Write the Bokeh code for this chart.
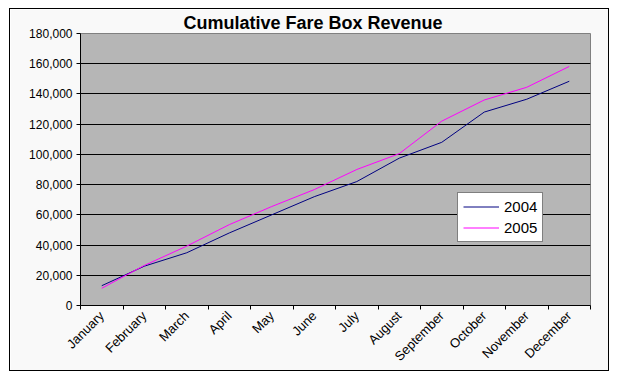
from math import pi
from bokeh.plotting import figure
from bokeh.models import (Range1d, FixedTicker, NumeralTickFormatter, Legend, LegendItem)
from bokeh.embed import file_html
from bokeh.resources import INLINE

months = ["January", "February", "March", "April", "May", "June", "July",
          "August", "September", "October", "November", "December"]
rev_2004 = [13100, 26000, 34900, 48000, 60000, 72000, 82000, 97500, 108000, 128000, 136500, 148400]
rev_2005 = [11400, 26500, 39300, 53500, 65500, 76700, 90000, 100500, 122000, 136000, 144400, 158200]
y_ticks = [0, 20000, 40000, 60000, 80000, 100000, 120000, 140000, 160000, 180000]

FONT = "Liberation Sans"
xs = list(range(1, len(months) + 1))

p = figure(width=600, height=363, output_backend="svg", toolbar_location=None,
           x_range=Range1d(0.5, len(months) + 0.5), y_range=Range1d(0, 180000),
           min_border_left=70, min_border_right=20, min_border_top=24, min_border_bottom=67,
           title="Cumulative Fare Box Revenue")
p.margin = (8, 0, 0, 9)
p.styles = {"border": "1px solid black"}
p.border_fill_color = "#f9f9f9"
p.background_fill_color = "#b6b6b6"
p.outline_line_color = "#808080"

p.title.text_font = FONT
p.title.text_font_size = "18px"
p.title.text_font_style = "bold"
p.title.text_color = "black"
p.title.align = "left"
p.title.offset = 103
p.title.standoff = 2

# x axis
xa = p.xaxis[0]
xa.ticker = FixedTicker(ticks=xs, minor_ticks=[x - 0.5 for x in xs] + [len(xs) + 0.5])
xa.major_label_overrides = {x: m for x, m in zip(xs, months)}
xa.major_tick_line_color = None
xa.major_tick_out = 4
xa.major_tick_in = 0
xa.minor_tick_out = 4
xa.minor_tick_in = 0
xa.minor_tick_line_color = "black"
xa.axis_line_color = "black"
xa.major_label_orientation = pi / 4
xa.major_label_text_font = FONT
xa.major_label_text_font_size = "13px"
xa.major_label_text_color = "black"
xa.major_label_standoff = 4

ya = p.yaxis[0]
ya.ticker = FixedTicker(ticks=y_ticks)
ya.formatter = NumeralTickFormatter(format="0,0")
ya.major_tick_out = 4
ya.major_tick_in = 0
ya.minor_tick_line_color = None
ya.axis_line_color = "black"
ya.major_label_text_font = FONT
ya.major_label_text_font_size = "12px"
ya.major_label_text_color = "black"
ya.major_label_standoff = 4

p.xgrid.visible = False
p.ygrid.ticker = FixedTicker(ticks=y_ticks[1:-1])
p.ygrid.grid_line_color = "black"
p.ygrid.grid_line_width = 1

r1 = p.line(xs, rev_2004, line_color="#000080", line_width=1)
r2 = p.line(xs, rev_2005, line_color="#ff00ff", line_width=1)

legend = Legend(items=[LegendItem(label="2004", renderers=[r1]),
                       LegendItem(label="2005", renderers=[r2])],
                location=(377, 63))
legend.label_text_font = FONT
legend.label_text_font_size = "15px"
legend.label_text_color = "black"
legend.glyph_width = 36
legend.glyph_height = 17
legend.label_height = 17
legend.spacing = 4
legend.padding = 5
legend.margin = 0
legend.label_standoff = 5
legend.border_line_color = "black"
legend.border_line_width = 1
legend.background_fill_color = "white"
legend.background_fill_alpha = 1
p.add_layout(legend)

open("out.html", "w").write(file_html(p, INLINE))
